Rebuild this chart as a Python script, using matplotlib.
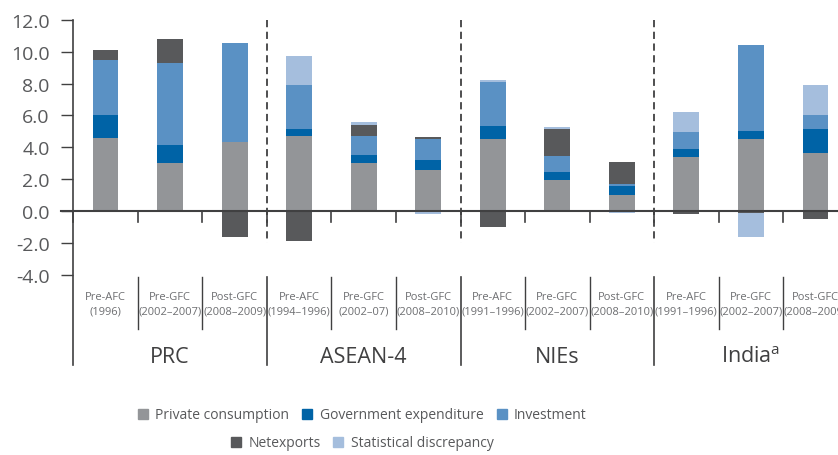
import matplotlib.pyplot as plt
from matplotlib.lines import Line2D
import numpy as np

groups = ['PRC', 'ASEAN-4', 'NIEs', 'India$^{\\mathrm{a}}$']
periods = ['Pre-AFC\n(1996)', 'Pre-GFC\n(2002–2007)', 'Post-GFC\n(2008–2009)',
           'Pre-AFC\n(1994–1996)', 'Pre-GFC\n(2002–07)', 'Post-GFC\n(2008–2010)',
           'Pre-AFC\n(1991–1996)', 'Pre-GFC\n(2002–2007)', 'Post-GFC\n(2008–2010)',
           'Pre-AFC\n(1991–1996)', 'Pre-GFC\n(2002–2007)', 'Post-GFC\n(2008–2009)']

series_names = ['Private consumption', 'Government expenditure', 'Investment',
                'Netexports', 'Statistical discrepancy']
private_consumption = [4.60, 3.00, 4.32, 4.70, 3.00, 2.56, 4.51, 1.93, 0.99, 3.38, 4.51, 3.63]
government_expenditure = [1.45, 1.13, 0.00, 0.44, 0.50, 0.63, 0.82, 0.50, 0.56, 0.50, 0.50, 1.51]
investment = [3.45, 5.16, 6.23, 2.76, 1.20, 1.32, 2.76, 1.01, 0.13, 1.07, 5.41, 0.88]
net_exports = [0.63, 1.51, -1.63, -1.89, 0.69, 0.13, -1.02, 1.70, 1.38, -0.20, -0.10, -0.52]
statistical_discrepancy = [0.00, 0.00, 0.00, 1.83, 0.19, -0.20, 0.13, 0.13, -0.10, 1.25, -1.55, 1.88]

yticks = [-4, -2, 0, 2, 4, 6, 8, 10, 12]

colors = ['#939598', '#0063a6', '#5a91c4', '#58595b', '#a5bedd']
axis_col = '#404041'
text_col = '#58595b'

plt.rcParams['font.family'] = ['Open Sans', 'DejaVu Sans']
plt.rcParams['mathtext.fontset'] = 'custom'
plt.rcParams['mathtext.rm'] = 'Open Sans'

fig = plt.figure(figsize=(8.38, 4.56), dpi=100)
W, H = 838.0, 456.0
# axes spans 12 categories, right part falls outside the picture
ax = fig.add_axes([73.3 / W, 1 - 275.6 / H, 774.4 / W, 254.6 / H])

data = [private_consumption, government_expenditure, investment,
        net_exports, statistical_discrepancy]
n = len(periods)
x = np.arange(n) + 0.5
pos = np.zeros(n)
neg = np.zeros(n)
for vals, c in zip(data, colors):
    v = np.array(vals)
    bottom = np.where(v >= 0, pos, neg)
    ax.bar(x, v, 0.4, bottom=bottom, color=c, linewidth=0, zorder=2)
    pos = pos + np.where(v > 0, v, 0)
    neg = neg + np.where(v < 0, v, 0)

ax.set_xlim(0, n)
ax.set_ylim(-4, 12)
for s in ['top', 'right', 'bottom', 'left']:
    ax.spines[s].set_visible(False)

ax.set_yticks(yticks)
ax.set_yticklabels([f'{v:.1f}' for v in yticks])
ax.tick_params(axis='y', length=9, width=1, color=axis_col, pad=8,
               labelsize=14, labelcolor=text_col)
ax.set_xticks([])

# zero line
ax.plot([-0.19, n], [0, 0], color=axis_col, lw=1.5, zorder=4, clip_on=False)
# left axis line, running down past the group labels
ax.plot([0, 0], [12, -9.7], color=axis_col, lw=1.2, zorder=4, clip_on=False)

for i in range(n + 1):
    ax.plot([i, i], [0, -0.7], color=axis_col, lw=1.2, zorder=4, clip_on=False)
    if i == 0:
        continue
    if i % 3 == 0:
        ax.plot([i, i], [12, -2.0], color=axis_col, lw=1.3, ls=(0, (4, 2.5)),
                zorder=3, clip_on=False)
        ax.plot([i, i], [-4.17, -9.7], color=axis_col, lw=1.2, clip_on=False)
    else:
        ax.plot([i, i], [-4.17, -7.45], color=axis_col, lw=1.0, clip_on=False)

for xi, lab in zip(x, periods):
    ax.text(xi, -5.85, lab, ha='center', va='center', fontsize=8,
            color='#6d6e71', linespacing=1.45, clip_on=False)

for g, name in enumerate(groups):
    ax.text(3 * g + 1.5, -9.15, name, ha='center', va='center',
            fontsize=15.5, color=axis_col, clip_on=False)

handles = [Line2D([], [], marker='s', ls='none', color=c, markersize=7)
           for c in colors]
kw = dict(frameon=False, fontsize=10, handlelength=0.8, handletextpad=0.5,
          columnspacing=0.9, labelcolor=text_col, borderpad=0, borderaxespad=0)
fig.legend(handles[:3], series_names[:3], loc='center', ncol=3,
           bbox_to_anchor=(362 / W, 1 - 416 / H), **kw)
fig.legend(handles[3:], series_names[3:], loc='center', ncol=2,
           bbox_to_anchor=(362 / W, 1 - 444 / H), **kw)

fig.savefig('out.png', dpi=100)
